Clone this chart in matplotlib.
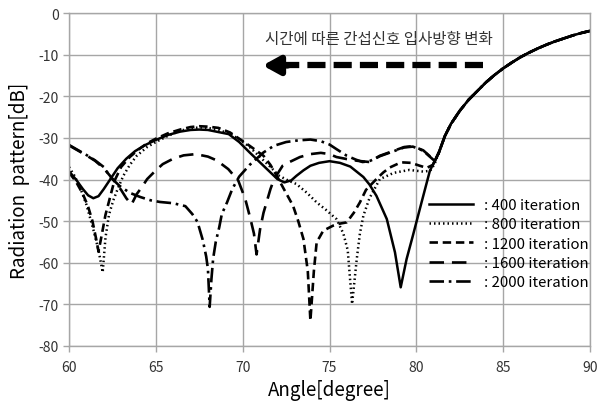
import matplotlib
matplotlib.use("Agg")
import matplotlib.pyplot as plt

plt.rcParams['font.family'] = ['Noto Sans CJK KR', 'DejaVu Sans']
plt.rcParams['axes.unicode_minus'] = False

# Shared main-lobe tail (all iterations converge here)
tail_ang = [81.3, 81.65, 82.0, 82.5, 83.0, 83.5, 84.0, 84.5, 85.0, 85.5, 86.0,
            86.5, 87.0, 87.5, 88.0, 88.5, 89.0, 89.5, 90.0]
tail_db = [-33.5, -29.5, -26.6, -23.5, -20.9, -18.8, -16.7, -14.9, -13.3, -11.9, -10.6,
           -9.5, -8.5, -7.6, -6.8, -6.1, -5.4, -4.8, -4.3]

ang_400 = [60.0, 60.4, 60.8, 61.1, 61.4, 61.7, 62.0, 62.4, 62.8, 63.3, 63.8, 64.4, 65.0,
           65.7, 66.4, 67.0, 67.5, 68.0, 68.6, 69.2, 69.8, 70.4, 71.0, 71.6, 72.0, 72.4,
           72.8, 73.1, 73.5, 73.9, 74.4, 75.0, 75.6, 76.2, 76.95, 77.3, 77.7, 78.3, 78.77,
           79.1, 79.44, 79.8, 80.3, 80.78, 81.05]
db_400 = [-38.0, -40.0, -42.3, -43.8, -44.5, -44.0, -42.3, -39.8, -37.3, -35.0, -33.2, -31.7, -30.5,
          -29.3, -28.5, -28.1, -28.0, -28.1, -28.6, -29.1, -31.0, -33.5, -35.9, -38.3, -39.9, -40.7,
          -40.2, -39.1, -37.8, -36.7, -36.0, -35.6, -36.0, -36.9, -39.4, -41.2, -43.9, -49.5, -57.5,
          -65.9, -59.1, -53.5, -45.5, -37.9, -35.6]

ang_800 = [60.0, 60.3, 60.6, 61.0, 61.4, 61.7, 61.94, 62.1, 62.3, 62.55, 62.8, 63.13, 63.5,
           63.9, 64.5, 65.0, 65.7, 66.4, 67.0, 67.5, 68.0, 68.6, 69.2, 69.8, 70.4, 71.0,
           71.6, 72.1, 72.6, 73.1, 73.7, 74.26, 74.8, 75.4, 75.8, 76.05, 76.3, 76.57, 76.75,
           76.95, 77.3, 77.9, 78.7, 79.6, 80.4, 80.8, 81.05]
db_800 = [-37.0, -39.0, -41.5, -46.0, -52.0, -57.0, -62.3, -54.0, -48.5, -45.0, -42.3, -39.1, -36.5,
          -34.3, -32.2, -31.0, -29.5, -28.3, -27.7, -27.5, -27.6, -28.1, -28.9, -30.3, -32.2, -34.6,
          -37.0, -39.1, -40.2, -41.1, -43.2, -45.5, -47.3, -49.5, -53.0, -57.0, -69.9, -59.1, -53.0,
          -48.7, -44.5, -39.9, -38.4, -37.7, -38.1, -37.9, -36.3]

ang_1200 = [60.0, 60.4, 60.8, 61.1, 61.35, 61.55, 61.7, 61.9, 62.1, 62.35, 62.6, 63.0, 63.5,
            64.0, 64.5, 65.0, 65.7, 66.4, 67.0, 67.5, 68.0, 68.6, 69.27, 69.8, 70.4, 71.2,
            71.6, 71.96, 72.4, 72.9, 73.2, 73.5, 73.75, 73.9, 74.1, 74.26, 74.64, 75.2, 75.6,
            75.99, 76.4, 76.75, 77.1, 77.7, 78.1, 78.48, 79.0, 79.25, 79.7, 80.2, 80.6, 80.95]
db_1200 = [-38.3, -40.5, -43.5, -46.5, -50.0, -54.0, -57.3, -53.0, -48.5, -44.5, -40.5, -37.0, -34.6,
           -32.8, -31.3, -30.2, -28.9, -28.0, -27.4, -27.2, -27.3, -27.6, -28.7, -30.2, -31.9, -34.3,
           -36.5, -39.1, -42.5, -46.3, -50.0, -54.3, -62.0, -73.9, -62.0, -55.1, -52.3, -51.1, -50.6,
           -50.3, -48.0, -45.5, -42.5, -39.9, -38.3, -37.1, -36.1, -35.9, -36.0, -36.7, -37.2, -36.5]

ang_1600 = [60.0, 60.5, 61.0, 61.5, 62.0, 62.5, 63.0, 63.3, 63.6, 63.9, 64.2, 64.5, 65.0,
            65.4, 66.0, 66.6, 67.3, 68.0, 68.5, 69.17, 69.75, 70.15, 70.45, 70.65, 70.8, 71.0,
            71.2, 71.6, 71.8, 72.3, 72.7, 73.3, 73.9, 74.5, 75.0, 75.4, 76.0, 76.6, 77.3,
            77.9, 78.7, 79.3, 79.8, 80.4, 80.8, 81.07]
db_1600 = [-31.8, -33.0, -34.2, -35.5, -37.3, -39.8, -42.5, -44.5, -46.0, -43.5, -41.8, -39.9, -37.8,
           -36.3, -35.0, -34.2, -33.9, -34.5, -35.4, -37.5, -40.3, -44.7, -49.5, -53.0, -58.0, -52.0,
           -48.0, -42.3, -40.0, -36.7, -35.8, -34.6, -33.9, -33.6, -33.9, -34.6, -35.1, -35.5, -35.8,
           -34.3, -33.1, -32.2, -32.0, -33.0, -34.5, -35.5]

ang_2000 = [60.0, 60.5, 61.0, 61.5, 62.0, 62.4, 62.9, 63.5, 64.1, 64.7, 65.24, 66.0, 66.7,
            67.1, 67.4, 67.7, 67.9, 68.0, 68.1, 68.2, 68.3, 68.45, 68.65, 68.8, 69.1, 69.4,
            69.8, 70.4, 71.2, 71.8, 72.5, 73.2, 73.9, 74.5, 75.0, 75.4, 76.0, 76.5, 76.9,
            77.3, 77.9, 78.7, 79.3, 79.8, 80.4, 80.8, 81.07]
db_2000 = [-31.7, -32.9, -34.1, -35.4, -37.0, -39.5, -41.5, -43.2, -44.2, -45.0, -45.4, -45.7, -46.4,
           -48.3, -50.2, -54.5, -58.5, -61.5, -70.6, -64.0, -59.0, -55.0, -51.5, -48.3, -45.5, -42.3,
           -39.3, -36.5, -33.5, -31.9, -31.0, -30.6, -30.4, -30.8, -31.6, -32.7, -34.3, -35.2, -35.8,
           -35.6, -34.4, -33.2, -32.3, -32.1, -33.1, -34.6, -35.6]

series = [
    (": 400 iteration", ang_400, db_400, dict(linestyle='-', lw=1.8)),
    (": 800 iteration", ang_800, db_800, dict(linestyle=(0, (0.6, 1.2)), lw=1.8)),
    (": 1200 iteration", ang_1200, db_1200, dict(linestyle=(0, (3.2, 1.8)), lw=1.9)),
    (": 1600 iteration", ang_1600, db_1600, dict(linestyle=(0, (5.5, 3.0)), lw=1.9)),
    (": 2000 iteration", ang_2000, db_2000, dict(linestyle=(0, (5.5, 1.8, 1.0, 1.8)), lw=1.9)),
]

x_ticks = [60, 65, 70, 75, 80, 85, 90]
y_ticks = [0, -10, -20, -30, -40, -50, -60, -70, -80]

fig = plt.figure(figsize=(5.99, 4.02), dpi=100)
ax = fig.add_axes([69 / 599, 1 - 347 / 402, (590 - 69) / 599, (347 - 14) / 402])

for label, a, d, style in series:
    ax.plot(a + tail_ang, d + tail_db, color='black', label=label,
            solid_joinstyle='round', dash_joinstyle='round', **style)

ax.set_xlim(60, 90)
ax.set_ylim(-80, 0)
ax.set_xticks(x_ticks)
ax.set_yticks(y_ticks)
ax.grid(True, color='#a6a6a6', lw=1.0)
ax.set_axisbelow(True)
for side in ['left', 'bottom', 'top', 'right']:
    ax.spines[side].set_color('#a6a6a6')
    ax.spines[side].set_linewidth(1.0)
ax.tick_params(axis='both', colors='#a6a6a6', labelcolor='#333333', labelsize=10,
               length=4, width=1.0, direction='out')
ax.tick_params(axis='x', pad=6)

ax.set_xlabel("Angle[degree]", fontsize=13.5, color='black', labelpad=4)
ax.set_ylabel("Radiation  pattern[dB]", fontsize=13.5, color='black', labelpad=6)

# Direction of change of the interference incidence angle over time
ax.text(77.85, -6.2, "시간에 따른 간섭신호 입사방향 변화", fontsize=11.2,
        color='#333333', ha='center', va='center')
ax.plot([83.85, 72.4], [-12.6, -12.6], color='black', lw=4.5,
        linestyle=(0, (2.9, 1.3)), solid_capstyle='butt')
ax.annotate('', xy=(71.15, -12.6), xytext=(72.6, -12.6),
            arrowprops=dict(arrowstyle='-|>,head_length=1.0,head_width=0.55',
                            color='black', lw=4.5, shrinkA=0, shrinkB=0))

leg = ax.legend(loc='upper left', bbox_to_anchor=(0.68, 0.462), frameon=False,
                fontsize=10.8, handlelength=2.9, handletextpad=0.75,
                labelspacing=0.35, borderaxespad=0)

fig.savefig("out.png", dpi=100)
